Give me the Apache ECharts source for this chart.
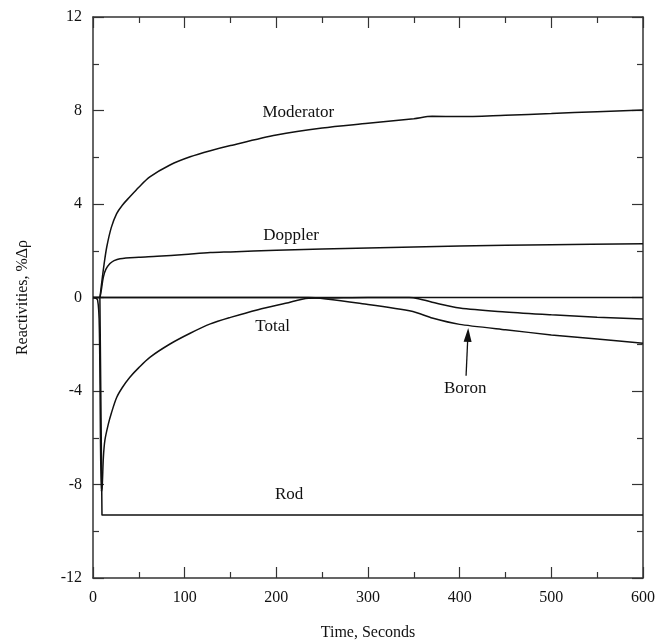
<!DOCTYPE html>
<html>
<head>
<meta charset="utf-8">
<script src="https://cdn.jsdelivr.net/npm/echarts@6/dist/echarts.min.js"></script>
<style>
  html, body { margin: 0; padding: 0; background: #fff; }
  #chart { width: 658px; height: 643px; }
</style>
</head>
<body>
<div id="chart"></div>
<script>
// [time (s), reactivity (%dk)]
var moderator = [[7.6, 0], [10, 0.8], [12, 1.4], [15, 2.16], [20, 3.0], [25.8, 3.59], [32, 3.95],
    [40, 4.3], [50, 4.72], [62, 5.16], [84, 5.67], [106, 6.02], [128, 6.28], [150, 6.5], [200, 6.95],
    [250, 7.25], [300, 7.45], [350, 7.65], [370, 7.75], [400, 7.74], [450, 7.8], [500, 7.87],
    [550, 7.95], [600, 8.02]];
var doppler = [[7.6, 0], [9, 0.3], [11.3, 0.87], [14, 1.2], [18.5, 1.45], [23, 1.58], [29.5, 1.66],
    [50, 1.72], [70, 1.76], [100, 1.84], [128, 1.92], [150, 1.95], [200, 2.02], [300, 2.12],
    [400, 2.2], [500, 2.26], [600, 2.3]];
var rod = [[0, 0], [7.5, 0], [9.8, -9.31], [600, -9.31]];
var total = [[0, 0], [5, -0.1], [7, -1.5], [9, -8.3], [10, -8.1], [11.3, -6.85], [13, -6.1],
    [16.7, -5.42], [20, -4.95], [25.8, -4.28], [32, -3.85], [40, -3.42], [50, -3.0], [62, -2.56],
    [84, -1.99], [106, -1.53], [128, -1.13], [150, -0.85], [180, -0.52], [210, -0.25], [235, -0.03],
    [260, -0.02], [300, 0], [345, 0], [355, -0.05], [370, -0.2], [400, -0.45], [450, -0.62],
    [500, -0.74], [550, -0.84], [600, -0.92]];
var boron = [[0, 0], [235, 0], [300, -0.3], [349, -0.6], [370, -0.88], [400, -1.15], [450, -1.38],
    [500, -1.6], [550, -1.78], [600, -1.96]];

var xTicks = [0, 100, 200, 300, 400, 500, 600];
var yTicks = [-12, -8, -4, 0, 4, 8, 12];

// curve labels [text, time, value]
var labels = [['Moderator', 224, 7.9], ['Doppler', 216, 2.66], ['Total', 196, -1.24],
    ['Boron', 406, -3.9], ['Rod', 214, -8.41]];
var boronArrow = [[407, -3.35], [409, -1.6]];

var font = 'Liberation Serif';
var ink = '#111';
var frame = '#333';

var dom = document.getElementById('chart');
var myChart = echarts.init(dom, null, { renderer: 'canvas' });

function axisX(show) {
    return {
        type: 'value', min: 0, max: 600, interval: 100,
        position: show ? 'bottom' : 'top',
        name: show ? 'Time, Seconds' : '',
        nameLocation: 'middle', nameGap: 47,
        nameTextStyle: { fontFamily: font, fontSize: 16, color: ink },
        axisLine: { show: true, onZero: false, lineStyle: { color: frame, width: 1.5 } },
        axisTick: { show: true, inside: true, length: 11, lineStyle: { color: frame, width: 1.2 } },
        minorTick: { show: true, splitNumber: 2, length: 6, lineStyle: { color: frame, width: 1.2 } },
        axisLabel: { show: show, margin: 12, fontFamily: font, fontSize: 16, color: ink,
            formatter: function (v) { return xTicks.indexOf(v) >= 0 ? String(v) : ''; } },
        splitLine: { show: false }
    };
}

function axisY(show) {
    return {
        type: 'value', min: -12, max: 12, interval: 4,
        position: show ? 'left' : 'right',
        name: show ? 'Reactivities, %\u0394\u03c1' : '',
        nameLocation: 'middle', nameGap: 62,
        nameTextStyle: { fontFamily: font, fontSize: 16, color: ink },
        axisLine: { show: true, onZero: false, lineStyle: { color: frame, width: 1.5 } },
        axisTick: { show: true, inside: true, length: 11, lineStyle: { color: frame, width: 1.2 } },
        minorTick: { show: true, splitNumber: 2, length: 6, lineStyle: { color: frame, width: 1.2 } },
        axisLabel: { show: show, margin: 11, fontFamily: font, fontSize: 16, color: ink,
            formatter: function (v) { return yTicks.indexOf(v) >= 0 ? String(v) : ''; } },
        splitLine: { show: false }
    };
}

function curve(name, data, smooth) {
    return {
        name: name, type: 'line', data: data,
        showSymbol: false, silent: true,
        smooth: smooth || false,
        lineStyle: { color: ink, width: 1.5 }
    };
}

var boronSeries = curve('Boron', boron, 0.2);
boronSeries.markLine = {
    silent: true,
    symbol: ['none', 'triangle'],
    symbolSize: [8, 14],
    lineStyle: { color: ink, width: 1.3, type: 'solid' },
    label: { show: false },
    data: [[{ coord: boronArrow[0] }, { coord: boronArrow[1] }]]
};

var rodSeries = curve('Rod', rod);
rodSeries.markLine = {
    silent: true,
    symbol: ['none', 'none'],
    lineStyle: { color: ink, width: 1.3, type: 'solid' },
    label: { show: false },
    data: [{ yAxis: 0 }]
};

var option = {
    animation: false,
    backgroundColor: '#fff',
    grid: { left: 93, right: 15, top: 17, bottom: 65, outerBoundsMode: 'none' },
    xAxis: [axisX(true), axisX(false)],
    yAxis: [axisY(true), axisY(false)],
    series: [
        curve('Moderator', moderator, 0.3),
        curve('Doppler', doppler, 0.3),
        rodSeries,
        curve('Total', total, 0.3),
        boronSeries
    ]
};

myChart.setOption(option);

// place curve labels through the axes
var texts = labels.map(function (l) {
    var p = myChart.convertToPixel({ gridIndex: 0 }, [l[1], l[2]]);
    return {
        type: 'text', x: p[0], y: p[1], silent: true,
        style: { text: l[0], fontFamily: font, fontSize: 17, fill: ink,
            align: 'center', verticalAlign: 'middle' }
    };
});
myChart.setOption({ graphic: texts });

window.addEventListener('resize', myChart.resize);
</script>
</body>
</html>
